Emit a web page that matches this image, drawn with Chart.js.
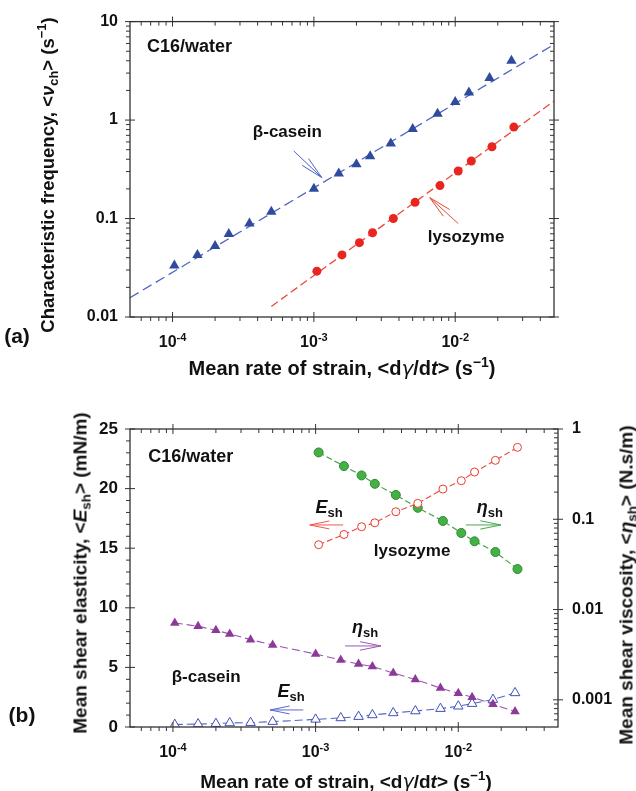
<!DOCTYPE html>
<html lang="en">
<head>
<meta charset="UTF-8" />
<title>C16/water strain-rate charts</title>
<script src="https://cdn.jsdelivr.net/npm/chart.js"></script>
<style>
  body { margin: 0; background: #fff; font-family: "Liberation Sans", Arial, sans-serif; font-weight: bold; color: #111; }
  .page { position: relative; width: 636px; height: 791px; overflow: hidden; }
  canvas { position: absolute; left: 0; }
  #chartA { top: 0; }
  #chartB { top: 390px; }
  .lbl { position: absolute; white-space: nowrap; transform: translate(-50%, -50%); font-size: 19px; line-height: 1; }
  .rot { transform: translate(-50%, -50%) rotate(-90deg); }
  .lbl sub, .lbl sup { font-size: 70%; line-height: 0; }
  .lbl sub { vertical-align: -0.3em; }
  .lbl sup { vertical-align: 0.6em; }
  .greek { font-family: "DejaVu Sans", sans-serif; font-weight: normal; }
  .panel { font-size: 21px; }
</style>
</head>
<body>
<div class="page">
  <canvas id="chartA" width="636" height="390"></canvas>
  <canvas id="chartB" width="636" height="401"></canvas>

  <div class="lbl rot" style="left:48px; top:175px; font-size:18.5px;">Characteristic frequency, &lt;<i>ν</i><sub>ch</sub>&gt; (s<sup>−1</sup>)</div>
  <div class="lbl" style="left:342px; top:368px; font-size:20px;">Mean rate of strain, &lt;d<i class="greek">γ</i>/d<i>t</i>&gt; (s<sup>−1</sup>)</div>
  <div class="lbl panel" style="left:17px; top:335px;">(a)</div>

  <div class="lbl rot" style="left:80px; top:573px;">Mean shear elasticity, &lt;<i>E</i><sub>sh</sub>&gt; (mN/m)</div>
  <div class="lbl rot" style="left:626px; top:585px;">Mean shear viscosity, &lt;<i>η</i><sub>sh</sub>&gt; (N.s/m)</div>
  <div class="lbl" style="left:346px; top:781px;">Mean rate of strain, &lt;d<i class="greek">γ</i>/d<i>t</i>&gt; (s<sup>−1</sup>)</div>
  <div class="lbl panel" style="left:22px; top:714px;">(b)</div>
</div>

<script>
  // strain rates (s^-1)
  const caseinRate = [1.03e-4, 1.5e-4, 2.0e-4, 2.5e-4, 3.5e-4, 5.0e-4, 1.0e-3, 1.5e-3, 2.0e-3, 2.5e-3, 3.5e-3, 5.0e-3, 7.5e-3, 0.010, 0.0125, 0.0175, 0.025];
  const lysozymeRate = [1.05e-3, 1.58e-3, 2.1e-3, 2.6e-3, 3.65e-3, 5.2e-3, 7.8e-3, 0.0105, 0.013, 0.0182, 0.026];

  // panel (a): characteristic frequency
  const caseinFreq = [0.0333, 0.0427, 0.0526, 0.0697, 0.089, 0.117, 0.201, 0.286, 0.355, 0.428, 0.579, 0.81, 1.16, 1.53, 1.91, 2.67, 4.0];
  const lysozymeFreq = [0.0292, 0.0427, 0.0569, 0.0718, 0.100, 0.146, 0.216, 0.304, 0.384, 0.536, 0.848];
  const caseinFitRate = [5e-5, 0.05];
  const caseinFitFreq = [0.0157, 5.86];
  const lysozymeFitRate = [5e-4, 0.05];
  const lysozymeFitFreq = [0.0128, 1.56];

  // panel (b): elasticity (mN/m) and viscosity (N.s/m)
  const caseinElasticity = [0.20, 0.25, 0.28, 0.34, 0.36, 0.45, 0.64, 0.76, 0.87, 1.01, 1.18, 1.34, 1.54, 1.74, 1.96, 2.30, 2.86];
  const caseinViscosity = [0.00711, 0.00653, 0.00589, 0.00537, 0.00464, 0.00405, 0.00322, 0.00276, 0.00249, 0.00234, 0.00198, 0.00168, 0.00135, 0.00118, 0.00107, 0.000896, 0.000742];
  const lysozymeElasticity = [15.29, 16.15, 16.80, 17.13, 18.06, 18.76, 19.96, 20.66, 21.39, 22.37, 23.46];
  const lysozymeViscosity = [0.55, 0.388, 0.306, 0.247, 0.186, 0.134, 0.0958, 0.0705, 0.057, 0.0434, 0.0281];

  // ticks
  const rateTicks = [1e-4, 1e-3, 1e-2];
  const freqTicks = [0.01, 0.1, 1, 10];
  const elasticityTicks = [0, 5, 10, 15, 20, 25];
  const elasticityMinor = [1, 2, 3, 4, 6, 7, 8, 9, 11, 12, 13, 14, 16, 17, 18, 19, 21, 22, 23, 24];
  const viscosityTicks = [0.001, 0.01, 0.1, 1];

  const FONT = '"Liberation Sans", Arial, sans-serif';
  const INK = '#111';

  function pts(xs, ys) {
    return xs.map((x, i) => ({ x: x, y: ys[i] }));
  }

  function logMinors(min, max) {
    const out = [];
    for (let e = Math.floor(Math.log10(min)); e <= Math.ceil(Math.log10(max)); e++) {
      for (let m = 2; m <= 9; m++) {
        const v = m * Math.pow(10, e);
        if (v > min * 1.0001 && v < max * 0.9999) out.push(v);
      }
    }
    return out;
  }

  function hTicks(ctx, scale, a, majors, minors) {
    ctx.beginPath();
    majors.forEach(v => {
      const p = scale.getPixelForValue(v);
      ctx.moveTo(p, a.bottom - 5); ctx.lineTo(p, a.bottom + 5);
      ctx.moveTo(p, a.top - 5); ctx.lineTo(p, a.top + 5);
    });
    minors.forEach(v => {
      const p = scale.getPixelForValue(v);
      ctx.moveTo(p, a.bottom); ctx.lineTo(p, a.bottom + 4);
      ctx.moveTo(p, a.top); ctx.lineTo(p, a.top + 4);
    });
    ctx.stroke();
  }

  function vTicks(ctx, scale, x, majors, minors) {
    ctx.beginPath();
    majors.forEach(v => {
      const p = scale.getPixelForValue(v);
      ctx.moveTo(x - 5, p); ctx.lineTo(x + 5, p);
    });
    minors.forEach(v => {
      const p = scale.getPixelForValue(v);
      ctx.moveTo(x - 4, p); ctx.lineTo(x, p);
    });
    ctx.stroke();
  }

  function powerLabels(ctx, scale, y, values) {
    ctx.fillStyle = INK;
    ctx.textBaseline = 'alphabetic';
    ctx.textAlign = 'left';
    values.forEach(v => {
      const sup = String(Math.round(Math.log10(v)));
      ctx.font = 'bold 16px ' + FONT;
      const w1 = ctx.measureText('10').width;
      ctx.font = 'bold 11px ' + FONT;
      const w2 = ctx.measureText(sup).width;
      const x0 = scale.getPixelForValue(v) - (w1 + w2) / 2;
      ctx.font = 'bold 16px ' + FONT;
      ctx.fillText('10', x0, y);
      ctx.font = 'bold 11px ' + FONT;
      ctx.fillText(sup, x0 + w1, y - 6);
    });
  }

  function drawText(ctx, x, y, parts, size) {
    let cx = x;
    ctx.fillStyle = INK;
    ctx.textBaseline = 'middle';
    ctx.textAlign = 'left';
    parts.forEach(p => {
      const sub = p.sub;
      const s = sub ? Math.round(size * 0.72) : size;
      ctx.font = (p.italic ? 'italic ' : '') + 'bold ' + s + 'px ' + FONT;
      ctx.fillText(p.t, cx, y + (sub ? size * 0.32 : 0));
      cx += ctx.measureText(p.t).width;
    });
  }

  function drawArrow(ctx, x1, y1, x2, y2, color) {
    const ang = Math.atan2(y2 - y1, x2 - x1);
    const len = Math.hypot(x2 - x1, y2 - y1);
    const barb = len * 0.6, spread = 0.2;
    ctx.strokeStyle = color;
    ctx.lineWidth = 1;
    ctx.beginPath();
    ctx.moveTo(x1, y1); ctx.lineTo(x2, y2);
    ctx.moveTo(x2 - barb * Math.cos(ang - spread), y2 - barb * Math.sin(ang - spread));
    ctx.lineTo(x2, y2);
    ctx.lineTo(x2 - barb * Math.cos(ang + spread), y2 - barb * Math.sin(ang + spread));
    ctx.stroke();
  }

  function drawNotes(chart, notes, yId) {
    const ctx = chart.ctx, xs = chart.scales.x, ys = chart.scales[yId];
    notes.forEach(n => {
      if (n.arrow) {
        drawArrow(ctx, xs.getPixelForValue(n.x1), ys.getPixelForValue(n.y1),
          xs.getPixelForValue(n.x2), ys.getPixelForValue(n.y2), n.color);
      } else {
        drawText(ctx, xs.getPixelForValue(n.x), ys.getPixelForValue(n.y), n.parts, n.size);
      }
    });
  }

  const notesA = [
    { x: 6.6e-5, y: 5.46, size: 18, parts: [{ t: 'C16/water' }] },
    { x: 3.7e-4, y: 0.757, size: 17, parts: [{ t: 'β-casein' }] },
    { arrow: true, x1: 7.2e-4, y1: 0.486, x2: 1.14e-3, y2: 0.26, color: '#4a62c4' },
    { x: 6.4e-3, y: 0.0643, size: 17, parts: [{ t: 'lysozyme' }] },
    { arrow: true, x1: 0.0105, y1: 0.089, x2: 6.6e-3, y2: 0.163, color: '#e8493c' }
  ];

  const notesB = [
    { x: 6.7e-5, y: 22.65, size: 18, parts: [{ t: 'C16/water' }] },
    { x: 1.0e-3, y: 18.4, size: 18, parts: [{ t: 'E', italic: true }, { t: 'sh', sub: true }] },
    { arrow: true, x1: 1.56e-3, y1: 16.95, x2: 9.1e-4, y2: 16.95, color: '#f0584e' },
    { x: 0.0135, y: 18.4, size: 18, parts: [{ t: 'η', italic: true }, { t: 'sh', sub: true }] },
    { arrow: true, x1: 0.0113, y1: 16.95, x2: 0.0199, y2: 16.95, color: '#4aa84e' },
    { x: 2.56e-3, y: 14.77, size: 17, parts: [{ t: 'lysozyme' }] },
    { x: 1.8e-3, y: 8.3, size: 18, parts: [{ t: 'η', italic: true }, { t: 'sh', sub: true }] },
    { arrow: true, x1: 1.61e-3, y1: 6.8, x2: 2.87e-3, y2: 6.8, color: '#9a58b2' },
    { x: 9.8e-5, y: 4.2, size: 17, parts: [{ t: 'β-casein' }] },
    { x: 5.4e-4, y: 2.94, size: 18, parts: [{ t: 'E', italic: true }, { t: 'sh', sub: true }] },
    { arrow: true, x1: 8.2e-4, y1: 1.43, x2: 4.8e-4, y2: 1.43, color: '#5a68d2' }
  ];

  const plainAxis = {
    grid: { display: false, drawTicks: false },
    border: { display: false }
  };
  const tickFont = { family: FONT, size: 16, weight: 'bold' };

  // ---- panel (a)
  const framePluginA = {
    id: 'frameA',
    afterDraw(chart) {
      const ctx = chart.ctx, a = chart.chartArea;
      const xs = chart.scales.x, ys = chart.scales.y;
      ctx.save();
      ctx.strokeStyle = '#333';
      ctx.lineWidth = 1.3;
      ctx.strokeRect(a.left, a.top, a.right - a.left, a.bottom - a.top);
      ctx.lineWidth = 1;
      hTicks(ctx, xs, a, rateTicks, logMinors(xs.min, xs.max));
      const yMin = logMinors(ys.min, ys.max);
      vTicks(ctx, ys, a.left, freqTicks, yMin);
      vTicks(ctx, ys, a.right, freqTicks, yMin);
      powerLabels(ctx, xs, a.bottom + 30, rateTicks);
      drawNotes(chart, notesA, 'y');
      ctx.restore();
    }
  };

  new Chart(document.getElementById('chartA'), {
    type: 'scatter',
    data: {
      datasets: [
        {
          data: pts(caseinRate, caseinFreq),
          pointStyle: 'triangle', pointRadius: 6,
          backgroundColor: '#2f4b9e', borderColor: '#2f4b9e', borderWidth: 0
        },
        {
          data: pts(lysozymeRate, lysozymeFreq),
          pointStyle: 'circle', pointRadius: 4.5,
          backgroundColor: '#e8261f', borderColor: '#e8261f', borderWidth: 0
        },
        {
          data: pts(caseinFitRate, caseinFitFreq),
          showLine: true, pointRadius: 0,
          borderColor: '#4f66c2', borderWidth: 1.3, borderDash: [10, 5]
        },
        {
          data: pts(lysozymeFitRate, lysozymeFitFreq),
          showLine: true, pointRadius: 0,
          borderColor: '#ea4a3c', borderWidth: 1.3, borderDash: [8, 4]
        }
      ]
    },
    options: {
      responsive: false,
      animation: false,
      layout: { padding: { top: 20, right: 82, left: 0, bottom: 0 } },
      plugins: { legend: { display: false }, tooltip: { enabled: false } },
      scales: {
        x: {
          ...plainAxis,
          type: 'logarithmic', min: 5e-5, max: 0.05,
          ticks: { display: false },
          afterBuildTicks: s => { s.ticks = rateTicks.map(v => ({ value: v })); },
          afterFit: s => { s.height = 73; }
        },
        y: {
          ...plainAxis,
          type: 'logarithmic', min: 0.01, max: 10,
          ticks: { padding: 12, color: INK, font: tickFont, callback: v => String(v) },
          afterBuildTicks: s => { s.ticks = freqTicks.map(v => ({ value: v })); },
          afterFit: s => { s.width = 130; }
        }
      }
    },
    plugins: [framePluginA]
  });

  // ---- panel (b)
  const framePluginB = {
    id: 'frameB',
    afterDraw(chart) {
      const ctx = chart.ctx, a = chart.chartArea;
      const xs = chart.scales.x, yl = chart.scales.y, yr = chart.scales.y2;
      ctx.save();
      ctx.strokeStyle = '#333';
      ctx.lineWidth = 1.3;
      ctx.strokeRect(a.left, a.top, a.right - a.left, a.bottom - a.top);
      ctx.lineWidth = 1;
      hTicks(ctx, xs, a, rateTicks, logMinors(xs.min, xs.max));
      vTicks(ctx, yl, a.left, elasticityTicks, elasticityMinor);
      vTicks(ctx, yr, a.right, viscosityTicks, logMinors(yr.min, yr.max));
      powerLabels(ctx, xs, a.bottom + 30, rateTicks);
      drawNotes(chart, notesB, 'y');
      ctx.restore();
    }
  };

  new Chart(document.getElementById('chartB'), {
    type: 'scatter',
    data: {
      datasets: [
        {
          data: pts(lysozymeRate, lysozymeElasticity), yAxisID: 'y',
          showLine: true, borderColor: '#ea4a3c', borderWidth: 1.1, borderDash: [6, 3],
          pointStyle: 'circle', pointRadius: 4,
          pointBackgroundColor: '#fff', pointBorderColor: '#ea3a30', pointBorderWidth: 1
        },
        {
          data: pts(lysozymeRate, lysozymeViscosity), yAxisID: 'y2',
          showLine: true, borderColor: '#3f9a45', borderWidth: 1.1, borderDash: [6, 3],
          pointStyle: 'circle', pointRadius: 4.5,
          pointBackgroundColor: '#45b045', pointBorderColor: '#2e8a30', pointBorderWidth: 1
        },
        {
          data: pts(caseinRate, caseinViscosity), yAxisID: 'y2',
          showLine: true, borderColor: '#9a55ae', borderWidth: 1.1, borderDash: [8, 4],
          pointStyle: 'triangle', pointRadius: 5.5,
          pointBackgroundColor: '#8c3a98', pointBorderColor: '#8c3a98', pointBorderWidth: 0
        },
        {
          data: pts(caseinRate, caseinElasticity), yAxisID: 'y',
          showLine: true, borderColor: '#5464c8', borderWidth: 1.1, borderDash: [8, 4],
          pointStyle: 'triangle', pointRadius: 5.5,
          pointBackgroundColor: '#fff', pointBorderColor: '#3f50b8', pointBorderWidth: 1
        }
      ]
    },
    options: {
      responsive: false,
      animation: false,
      layout: { padding: { top: 39, right: 0, left: 0, bottom: 0 } },
      plugins: { legend: { display: false }, tooltip: { enabled: false } },
      scales: {
        x: {
          ...plainAxis,
          type: 'logarithmic', min: 5e-5, max: 0.05,
          ticks: { display: false },
          afterBuildTicks: s => { s.ticks = rateTicks.map(v => ({ value: v })); },
          afterFit: s => { s.height = 64; }
        },
        y: {
          ...plainAxis,
          type: 'linear', position: 'left', min: 0, max: 25,
          ticks: { padding: 12, color: INK, font: { family: FONT, size: 17, weight: 'bold' }, callback: v => String(v) },
          afterBuildTicks: s => { s.ticks = elasticityTicks.map(v => ({ value: v })); },
          afterFit: s => { s.width = 130; }
        },
        y2: {
          ...plainAxis,
          type: 'logarithmic', position: 'right', min: 0.0005, max: 1,
          ticks: { padding: 14, color: INK, font: tickFont, callback: v => String(v) },
          afterBuildTicks: s => { s.ticks = viscosityTicks.map(v => ({ value: v })); },
          afterFit: s => { s.width = 78; }
        }
      }
    },
    plugins: [framePluginB]
  });
</script>
</body>
</html>
